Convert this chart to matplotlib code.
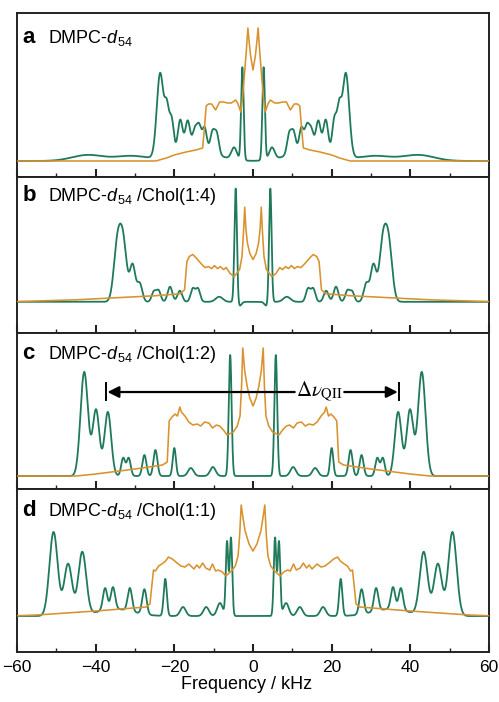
import numpy as np
import matplotlib
matplotlib.use("Agg")
import matplotlib.pyplot as plt

plt.rcParams.update({
    "font.family": ["Liberation Sans", "DejaVu Sans"],
    "mathtext.fontset": "custom",
    "mathtext.rm": "Liberation Sans",
    "mathtext.it": "Liberation Sans:italic",
    "axes.linewidth": 1.4,
    "axes.edgecolor": "#222222",
})

GREEN = "#1f7a5a"
ORANGE = "#d9922e"

# ---- data: green spectra as peak lists (kHz, height, width), mirrored about 0 ----
a_pos = [2.7, 4.8, 9.2, 10.3, 12.3, 13.7, 14.8, 16.6, 18.5, 20.7, 21.9, 23.6, 15.0, 31.0, 42.0]
a_amp = [93, 12, 20, 20, 22, 22, 18, 28, 31, 34, 42, 84, 13, 5, 6]
a_wid = [0.32, 0.7, 0.55, 0.55, 0.55, 0.55, 0.55, 0.6, 0.6, 0.55, 0.55, 0.85, 5.0, 4.0, 4.0]

b_pos = [4.4, 3.4, 8.6, 14.0, 15.3, 18.6, 21.1, 24.0, 25.2, 28.8, 30.6, 33.0, 34.5]
b_amp = [113, -4, 5, 13, 13, 11, 15, 11, 10, 18, 36, 56, 54]
b_wid = [0.32, 0.5, 0.9, 0.55, 0.55, 0.6, 0.6, 0.55, 0.55, 0.65, 0.7, 0.9, 0.9]

c_pos = [5.8, 10.2, 15.8, 20.0, 24.8, 27.6, 31.6, 33.0, 36.9, 39.9, 42.9]
c_amp = [121, 9, 8, 28, 26, 21, 18, 18, 64, 66, 104]
c_wid = [0.36, 0.7, 0.7, 0.4, 0.5, 0.5, 0.5, 0.5, 0.85, 0.85, 0.95]

d_pos = [5.6, 6.6, 8.4, 11.9, 17.8, 22.3, 27.6, 31.3, 35.6, 37.6, 43.4, 47.0, 50.7, 35.0]
d_amp = [78, 74, 13, 9, 9, 37, 25, 23, 22, 22, 63, 52, 84, 7]
d_wid = [0.32, 0.32, 0.7, 0.7, 0.7, 0.4, 0.55, 0.55, 0.55, 0.55, 1.0, 1.0, 1.05, 4.5]

# ---- data: orange spectra, positive half (kHz, height), mirrored about 0 ----
a_ox = [0, 0.6, 1.0, 1.3, 1.7, 2.3, 2.7, 3.1, 3.8, 4.4, 5.5, 6.5, 7.5, 8.5, 9.5, 10.5,
        11.3, 11.9, 12.3, 12.8, 14.5, 17, 20, 22, 24.7, 62]
a_oy = [91, 105, 120, 133, 110, 80, 62, 49, 57, 61, 58, 58, 59, 59, 51, 57,
        57, 55, 35, 13, 11, 9, 6, 3, 0, 0]

b_ox = [0, 0.8, 1.4, 1.8, 2.1, 2.4, 2.8, 3.4, 4.8, 5.8, 6.8, 7.5, 8.3, 9.0, 9.8, 10.5,
        11.3, 12.2, 13.2, 14.3, 15.3, 16.2, 16.8, 17.4, 18.5, 25, 35, 45, 62]
b_oy = [42, 48, 58, 72, 94, 70, 45, 32, 25, 28, 34, 32, 35, 33, 36, 33,
        35, 34, 38, 43, 47, 45, 40, 12, 8, 6, 4, 2, 0]

c_ox = [0, 0.8, 1.5, 2.1, 2.6, 2.9, 3.3, 4.0, 5.0, 6.6, 7.5, 8.5, 9.3, 10.3, 11.2, 12.3,
        13.3, 14.2, 15.3, 16.3, 17.3, 18.2, 18.6, 19.2, 19.8, 20.6, 21.3, 21.8, 23, 30,
        40, 45, 62]
c_oy = [70, 78, 90, 105, 128, 90, 60, 50, 44, 41, 46, 50, 51, 48, 53, 54,
        50, 52, 51, 54, 60, 64, 69, 60, 62, 59, 55, 14, 11, 7,
        2, 0, 0]

d_ox = [0, 1.0, 2.0, 2.6, 3.0, 3.4, 3.8, 4.5, 5.5, 6.9, 7.8, 8.8, 9.5, 10.3, 11.0, 12.0,
        12.8, 13.6, 14.3, 15.0, 16.3, 17.3, 18.3, 19.3, 20.5, 21.5, 22.2, 23.2, 24.0,
        24.8, 25.3, 26.2, 27.2, 40, 55, 62]
d_oy = [65, 72, 85, 100, 111, 80, 60, 50, 45, 40, 44, 46, 45, 52, 46, 48,
        53, 48, 51, 47, 52, 49, 50, 53, 57, 59, 55, 52, 50,
        45, 46, 12, 9, 5, 1, 0]

labels = ["a", "b", "c", "d"]
titles = ["DMPC-$d_{54}$", "DMPC-$d_{54}$ /Chol(1:4)",
          "DMPC-$d_{54}$ /Chol(1:2)", "DMPC-$d_{54}$ /Chol(1:1)"]
green_sets = [(a_pos, a_amp, a_wid), (b_pos, b_amp, b_wid),
              (c_pos, c_amp, c_wid), (d_pos, d_amp, d_wid)]
orange_sets = [(a_ox, a_oy), (b_ox, b_oy), (c_ox, c_oy), (d_ox, d_oy)]

# layout (figure fractions) and y-ranges of each panel
panel_box = [(0.7479, 0.9815), (0.5256, 0.7479), (0.3034, 0.5256), (0.0712, 0.3034)]
ylims = [(-16, 148), (-31, 124), (-13, 143), (-36, 127)]
label_y = [0.817, 0.845, 0.833, 0.834]

freq = np.linspace(-62, 62, 6201)

fig = plt.figure(figsize=(4.99, 7.02), dpi=100)
axes = []
for i in range(4):
    lo, hi = panel_box[i]
    ax = fig.add_axes([0.034, lo, 0.946, hi - lo])
    axes.append(ax)

    pos, amp, wid = green_sets[i]
    g = np.zeros_like(freq)
    for p, h, w in zip(pos, amp, wid):
        g += h * np.exp(-0.5 * ((np.abs(freq) - p) / w) ** 2)
    ax.plot(freq, g, color=GREEN, lw=1.3, zorder=2)

    ox, oy = orange_sets[i]
    ox = np.array(ox, float)
    oy = np.array(oy, float)
    xs = np.concatenate([-ox[::-1], ox[1:]])
    ys = np.concatenate([oy[::-1], oy[1:]])
    ax.plot(xs, ys, color=ORANGE, lw=1.15, zorder=3)

    ax.set_xlim(-60, 60)
    ax.set_ylim(*ylims[i])
    ax.set_yticks([])
    ax.set_xticks(np.arange(-60, 61, 20))
    ax.set_xticks(np.arange(-50, 51, 20), minor=True)
    ax.tick_params(axis="x", which="major", direction="in", length=5.5, width=1.5,
                   labelsize=12.5, pad=6, color="#222222")
    ax.tick_params(axis="x", which="minor", direction="in", length=3.2, width=1.0,
                   color="#222222")
    if i < 3:
        ax.tick_params(axis="x", labelbottom=False)

    ax.text(0.011, label_y[i], labels[i], transform=ax.transAxes, fontsize=16,
            fontweight="bold", va="baseline", ha="left")
    ax.text(0.066, label_y[i], titles[i], transform=ax.transAxes, fontsize=13,
            va="baseline", ha="left")

axes[3].set_xlabel("Frequency / kHz", fontsize=13)
axes[3].xaxis.set_label_coords(0.487, -0.148)

# splitting arrow in panel c
axc = axes[2]
arrow_y = 84
arr = dict(arrowstyle="-|>", lw=1.6, color="black", mutation_scale=17,
           shrinkA=0, shrinkB=0)
axc.annotate("", xy=(-37.0, arrow_y), xytext=(10.6, arrow_y), arrowprops=arr)
axc.annotate("", xy=(36.8, arrow_y), xytext=(23.2, arrow_y), arrowprops=arr)
axc.plot([-37.3, -37.3], [76, 93], color="black", lw=1.4)
axc.plot([37.1, 37.1], [76, 93], color="black", lw=1.4)
axc.text(17.0, arrow_y + 1, r"$\Delta\nu_{\mathrm{QII}}$", math_fontfamily="stix",
         fontsize=15, ha="center", va="center")

fig.savefig("out.png", dpi=100)
